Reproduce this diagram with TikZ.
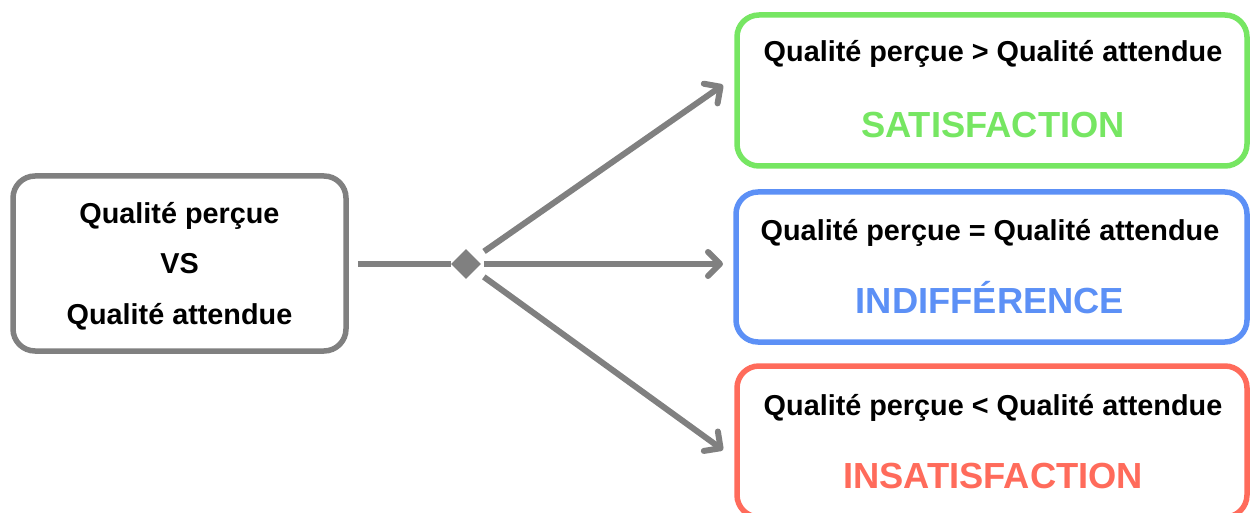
\documentclass[tikz,border=0pt]{standalone}
\usepackage{fontspec}
\setmainfont{Liberation Sans}
\usetikzlibrary{arrows.meta,shapes.geometric}
\definecolor{cgray}{RGB}{128,128,128}
\definecolor{cgreen}{RGB}{118,230,98}
\definecolor{cblue}{RGB}{92,144,246}
\definecolor{cred}{RGB}{255,107,91}
\tikzset{
  box/.style={draw, line width=5.5pt, rounded corners=22pt, inner sep=0pt, fill=white},
  small/.style={font=\fontsize{28.8}{34}\selectfont\bfseries, anchor=base, inner sep=0pt, text=black},
  big/.style={font=\fontsize{36.3}{42}\selectfont\bfseries, anchor=base, inner sep=0pt},
  conn/.style={draw=cgray, line width=6pt},
  arr/.style={conn, -{Straight Barb[length=12pt,width=24pt,line width=6pt,round]}},
}
\begin{document}
\begin{tikzpicture}[x=1pt,y=-1pt]
\useasboundingbox (0,0) rectangle (1251,513);
% boxes
\node[box, draw=cgray, minimum width=333pt, minimum height=175pt] (cmp) at (179.5,263.5) {};
\node[box, draw=cgreen, minimum width=510pt, minimum height=151pt] (sat) at (992,90.5) {};
\node[box, draw=cblue, minimum width=511pt, minimum height=150pt] (ind) at (991.5,267) {};
\node[box, draw=cred, minimum width=510pt, minimum height=151pt] (ins) at (992,441.5) {};
% texts
\node[small] (c1) at (179.5,224) {Qualité perçue};
\node[small] (c2) at (179.5,274) {VS};
\node[small] (c3) at (179.5,324) {Qualité attendue};
\node[small] (s1) at (993,62) {Qualité perçue > Qualité attendue};
\node[big, text=cgreen] (s2) at (993,138) {SATISFACTION};
\node[small] (i1) at (990,241) {Qualité perçue = Qualité attendue};
\node[big, text=cblue] (i2) at (990,313) {INDIFFÉRENCE};
\node[small] (n1) at (993,415) {Qualité perçue < Qualité attendue};
\node[big, text=cred] (n2) at (993,488) {INSATISFACTION};
% diamond
\node[diamond, fill=cgray, minimum width=30pt, minimum height=30pt, inner sep=0pt] (dia) at (466,264) {};
% arrow targets
\coordinate (t1) at (723,85);
\coordinate (t2) at (723,264);
\coordinate (t3) at (723,450);
% connectors
\draw[conn, shorten <=9pt] (cmp.east |- dia) -- (dia.west);
\draw[arr, shorten <=22pt] (dia.center) -- (t1);
\draw[arr, shorten <=18pt] (dia.center) -- (t2);
\draw[arr, shorten <=22pt] (dia.center) -- (t3);
\end{tikzpicture}
\end{document}
